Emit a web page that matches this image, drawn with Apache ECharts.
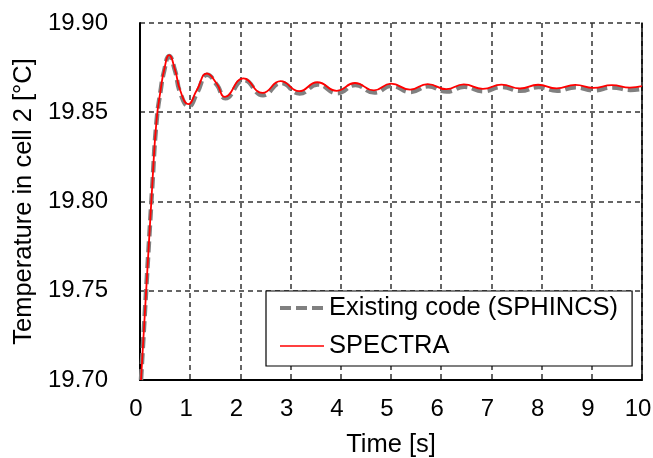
<!DOCTYPE html>
<html>
<head>
<meta charset="utf-8">
<script src="https://cdn.jsdelivr.net/npm/echarts@6/dist/echarts.min.js"></script>
<style>
  html, body { margin: 0; padding: 0; background: #fff; }
  #chart { width: 653px; height: 458px; }
</style>
</head>
<body>
<div id="chart"></div>
<script>
// Time axis ticks
const xTicks = [0, 1, 2, 3, 4, 5, 6, 7, 8, 9, 10];
const yTicks = [19.70, 19.75, 19.80, 19.85, 19.90];

// SPECTRA (red)
const tRed = [0.02, 0.25, 0.33, 0.41, 0.48, 0.58, 0.70, 0.80, 0.96, 1.13, 1.33, 1.53, 1.69,
  2.06, 2.44, 2.80, 3.17, 3.53, 3.92, 4.28, 4.66, 5.00, 5.38, 5.73, 6.10, 6.45, 6.83,
  7.20, 7.57, 7.93, 8.30, 8.67, 9.03, 9.40, 9.76, 10.0];
const vRed = [19.700, 19.812, 19.8455, 19.8623, 19.8735, 19.882, 19.8735, 19.8623, 19.8545, 19.8623, 19.8717, 19.866, 19.8586,
  19.869, 19.8608, 19.8674, 19.8618, 19.8668, 19.862, 19.8664, 19.8623, 19.866, 19.8627, 19.8658, 19.8629, 19.8656, 19.8631,
  19.8655, 19.8633, 19.8654, 19.8634, 19.8653, 19.8636, 19.8652, 19.8638, 19.8646];

// Existing code (SPHINCS) (gray dashed)
const tGray = [0.02, 0.25, 0.33, 0.41, 0.48, 0.58, 0.70, 0.80, 0.97, 1.14, 1.34, 1.54, 1.70,
  2.07, 2.45, 2.81, 3.18, 3.54, 3.93, 4.29, 4.67, 5.01, 5.39, 5.74, 6.11, 6.46, 6.84,
  7.21, 7.58, 7.94, 8.31, 8.68, 9.04, 9.41, 9.77, 10.0];
const vGray = [19.700, 19.811, 19.845, 19.862, 19.873, 19.8815, 19.873, 19.861, 19.8533, 19.861, 19.871, 19.865, 19.8578,
  19.868, 19.8595, 19.8664, 19.8605, 19.8656, 19.8607, 19.8652, 19.861, 19.8648, 19.8614, 19.8645, 19.8616, 19.8643, 19.8618,
  19.8642, 19.862, 19.8641, 19.8621, 19.864, 19.8623, 19.8639, 19.8625, 19.8632];

const seriesNames = ['Existing code (SPHINCS)', 'SPECTRA'];

const zip = (a, b) => a.map((t, i) => [t, b[i]]);
const FONT = 'Liberation Sans, Arial, sans-serif';

const chart = echarts.init(document.getElementById('chart'), null, { renderer: 'canvas' });
chart.setOption({
  animation: false,
  backgroundColor: '#ffffff',
  grid: { left: 140, right: 11, top: 23, bottom: 78, containLabel: false, outerBoundsMode: 'none' },
  xAxis: {
    type: 'value',
    min: xTicks[0], max: xTicks[xTicks.length - 1], interval: 1,
    name: 'Time [s]', nameLocation: 'middle', nameGap: 52,
    nameTextStyle: { fontFamily: FONT, fontSize: 25.5, color: '#000' },
    axisLine: { show: true, onZero: false, lineStyle: { color: '#000', width: 2 } },
    axisTick: { show: false },
    axisLabel: { fontFamily: FONT, fontSize: 24, color: '#000', margin: 17, padding: [0, 8, 0, 0] },
    splitLine: { show: true, lineStyle: { color: '#333333', width: 1.5, type: [5, 4] } }
  },
  yAxis: [{
    type: 'value',
    min: yTicks[0], max: yTicks[yTicks.length - 1], interval: 0.05,
    name: 'Temperature in cell 2 [°C]', nameLocation: 'middle', nameGap: 100,
    nameTextStyle: { fontFamily: FONT, fontSize: 25.5, color: '#000' },
    axisLine: { show: true, onZero: false, lineStyle: { color: '#000', width: 2 } },
    axisTick: { show: false },
    axisLabel: { fontFamily: FONT, fontSize: 24, color: '#000', margin: 32,
      formatter: v => v.toFixed(2) },
    splitLine: { show: true, lineStyle: { color: '#333333', width: 1.5, type: [5, 4] } }
  }, {
    type: 'value', position: 'right',
    min: yTicks[0], max: yTicks[yTicks.length - 1], interval: 0.05,
    axisLine: { show: true, onZero: false, lineStyle: { color: '#000', width: 1.5 } },
    axisTick: { show: false }, axisLabel: { show: false }, splitLine: { show: false }
  }],
  legend: {
    orient: 'vertical',
    left: 266, top: 291,
    padding: [4, 14, 7, 12],
    itemGap: 12,
    itemWidth: 44, itemHeight: 14,
    backgroundColor: '#fff',
    borderColor: '#000', borderWidth: 1.2,
    textStyle: { fontFamily: FONT, fontSize: 25.5, color: '#000' },
    data: [
      { name: seriesNames[0], itemStyle: { opacity: 0 }, lineStyle: { color: '#808080', width: 4, type: [11, 5] } },
      { name: seriesNames[1], itemStyle: { opacity: 0 }, lineStyle: { color: '#ff0000', width: 1.5 } }
    ]
  },
  series: [
    {
      name: seriesNames[0], type: 'line', data: zip(tGray, vGray),
      showSymbol: false, symbol: 'none', smooth: 0.5,
      lineStyle: { color: '#808080', width: 4.5, type: [11, 5] },
      itemStyle: { color: '#808080' }, z: 2
    },
    {
      name: seriesNames[1], type: 'line', data: zip(tRed, vRed),
      showSymbol: false, symbol: 'none', smooth: 0.5,
      lineStyle: { color: '#ff0000', width: 1.8 },
      itemStyle: { color: '#ff0000' }, z: 3
    }
  ]
});
</script>
</body>
</html>
